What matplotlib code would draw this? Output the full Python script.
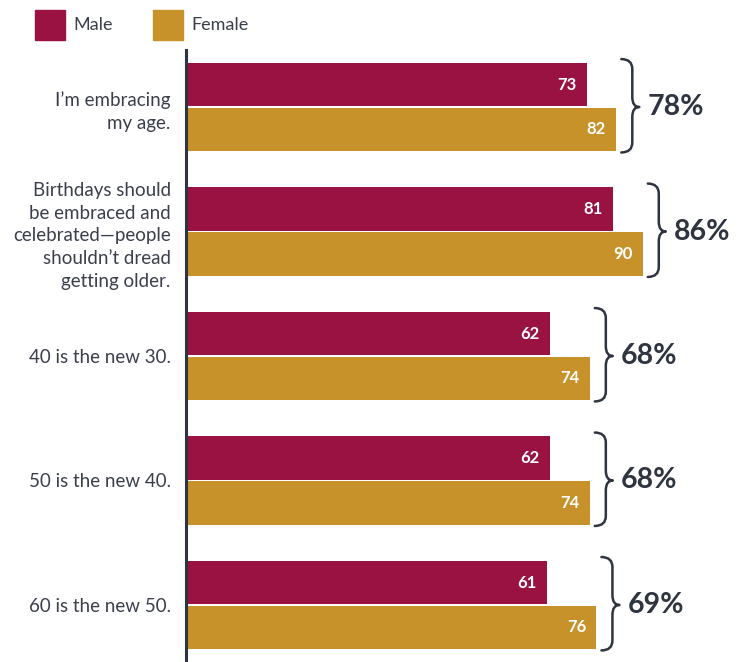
import matplotlib
matplotlib.use("Agg")
import matplotlib.pyplot as plt
from matplotlib.patches import Rectangle, PathPatch
from matplotlib.path import Path

plt.rcParams['font.family'] = ['Lato', 'DejaVu Sans']

statements = [
    "I\u2019m embracing\nmy age.",
    "Birthdays should\nbe embraced and\ncelebrated\u2014people\nshouldn\u2019t dread\ngetting older.",
    "40 is the new 30.",
    "50 is the new 40.",
    "60 is the new 50.",
]
male = [73, 81, 62, 62, 61]
female = [82, 90, 74, 74, 76]
overall = [78, 86, 68, 68, 69]

MALE_COLOR = "#9A1242"
FEMALE_COLOR = "#C8922A"
INK = "#2E3440"
TEXT = "#3A3F4B"

W, H = 747, 662
fig = plt.figure(figsize=(W / 100, H / 100), dpi=100)
ax = fig.add_axes([186 / W, 0, (W - 186) / W, 612 / H])

base = -48
bar_h = 0.35
off = 0.18
ys = list(range(len(statements)))

ax.barh([y - off for y in ys], [m - base for m in male], left=base,
        height=bar_h, color=MALE_COLOR)
ax.barh([y + off for y in ys], [f - base for f in female], left=base,
        height=bar_h, color=FEMALE_COLOR)

for y, m, f in zip(ys, male, female):
    ax.annotate(str(m), (m, y - off), xytext=(-7.5, 0), textcoords="offset points",
                ha="right", va="center", color="white", fontsize=12, fontweight="bold")
    ax.annotate(str(f), (f, y + off), xytext=(-7.5, 0), textcoords="offset points",
                ha="right", va="center", color="white", fontsize=12, fontweight="bold")

# curly braces joining each pair, followed by the combined share
px = 3.31  # pixels per x unit
for y, m, f, tot in zip(ys, male, female, overall):
    x0 = max(m, f) + 5 / px
    xs = x0 + 11 / px
    xt = x0 + 18 / px
    top = y - off - bar_h / 2 - 0.03
    bot = y + off + bar_h / 2 + 0.01
    r = 0.08
    verts = [
        (x0, top), (xs, top), (xs, top + r),
        (xs, y - r), (xs, y), (xt, y),
        (xs, y), (xs, y + r),
        (xs, bot - r), (xs, bot), (x0, bot),
    ]
    codes = [Path.MOVETO, Path.CURVE3, Path.CURVE3,
             Path.LINETO, Path.CURVE3, Path.CURVE3,
             Path.CURVE3, Path.CURVE3,
             Path.LINETO, Path.CURVE3, Path.CURVE3]
    ax.add_patch(PathPatch(Path(verts, codes), fill=False, edgecolor=INK,
                           linewidth=1.8, capstyle="round", joinstyle="round"))
    ax.text(x0 + 26 / px, y, f"{tot}%", ha="left", va="center",
            fontsize=20.5, fontweight="bold", color=INK)

ax.set_xlim(base, base + (W - 186) / px)
ax.set_ylim(len(statements) - 1 + 0.458, -0.458)
ax.set_yticks(ys, statements)
ax.tick_params(axis="y", length=0, pad=11, labelsize=13.5, labelcolor=TEXT)
for lbl in ax.get_yticklabels():
    lbl.set_linespacing(1.42)
ax.set_xticks([])
for side in ["top", "right", "bottom"]:
    ax.spines[side].set_visible(False)
ax.spines["left"].set_color(INK)
ax.spines["left"].set_linewidth(2.2)

# legend squares drawn in figure pixel space
for x, col, name in [(35, MALE_COLOR, "Male"), (153, FEMALE_COLOR, "Female")]:
    fig.add_artist(Rectangle((x / W, 1 - 40 / H), 30 / W, 30 / H,
                             transform=fig.transFigure, color=col))
    fig.text((x + 38) / W, 1 - 25 / H, name, ha="left", va="center",
             fontsize=13, color=TEXT)

fig.savefig("out.png", dpi=100)
